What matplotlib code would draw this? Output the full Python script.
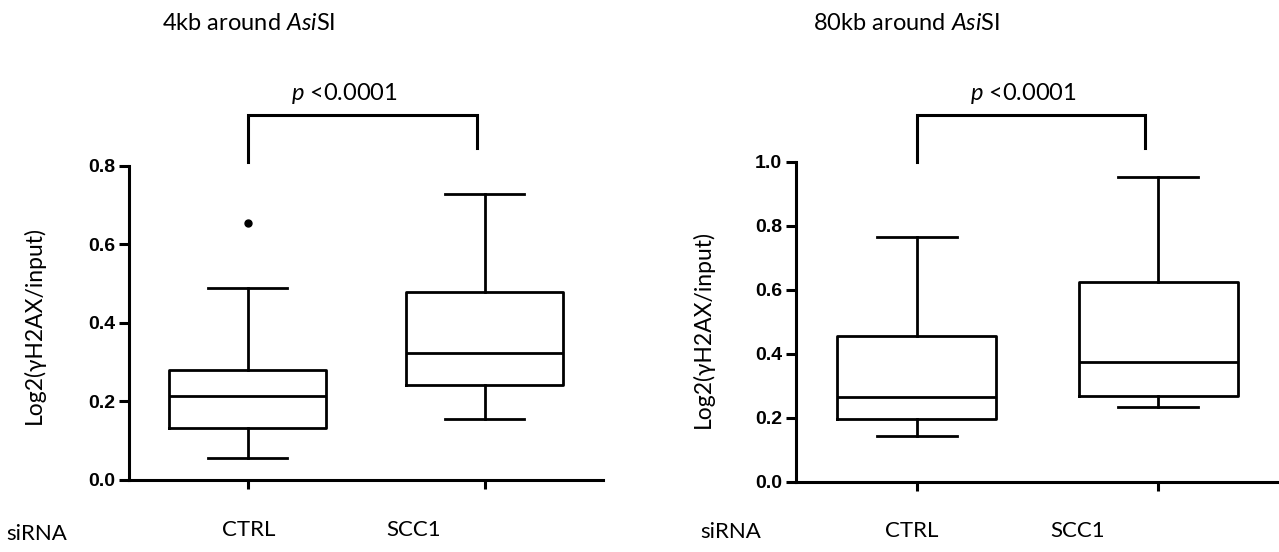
import matplotlib
matplotlib.use('Agg')
from matplotlib import pyplot as plt

plt.rcParams['font.family'] = ['Lato', 'DejaVu Sans']
plt.rcParams['mathtext.fontset'] = 'custom'
plt.rcParams['mathtext.rm'] = 'Lato'
plt.rcParams['mathtext.it'] = 'Lato:italic'

groups = ['CTRL', 'SCC1']

# 4kb around AsiSI: whisker low, Q1, median, Q3, whisker high
kb4_low = [0.055, 0.155]
kb4_q1 = [0.132, 0.243]
kb4_med = [0.215, 0.323]
kb4_q3 = [0.279, 0.479]
kb4_high = [0.488, 0.727]
kb4_fliers = [[0.653], []]

# 80kb around AsiSI
kb80_low = [0.144, 0.234]
kb80_q1 = [0.195, 0.268]
kb80_med = [0.264, 0.375]
kb80_q3 = [0.455, 0.625]
kb80_high = [0.766, 0.951]
kb80_fliers = [[], []]

W, H = 1279, 552
fig = plt.figure(figsize=(W / 100, H / 100), dpi=100)


def stats(low, q1, med, q3, high, fliers):
    out = []
    for i in range(len(low)):
        out.append({'whislo': low[i], 'q1': q1[i], 'med': med[i], 'q3': q3[i],
                    'whishi': high[i], 'fliers': fliers[i]})
    return out


def panel(rect, st, ymax, bracket):
    ax = fig.add_axes(rect)
    lw = 2.0
    ax.bxp(st, positions=[1, 2], widths=0.66, showfliers=True,
           boxprops=dict(color='black', linewidth=lw),
           medianprops=dict(color='black', linewidth=lw),
           whiskerprops=dict(color='black', linewidth=lw),
           capprops=dict(color='black', linewidth=lw),
           flierprops=dict(marker='o', markerfacecolor='black', markeredgecolor='black',
                           markersize=5))
    ax.set_xlim(0.5, 2.5)
    ax.set_ylim(0, ymax)
    ax.set_yticks([round(v * 0.2, 1) for v in range(int(round(ymax / 0.2)) + 1)])
    ax.set_yticklabels(['%.1f' % t for t in ax.get_yticks()],
                       fontfamily='Liberation Sans', fontweight='bold', fontsize=14)
    ax.set_xticks([1, 2])
    ax.set_xticklabels(['', ''])
    for s in ['top', 'right']:
        ax.spines[s].set_visible(False)
    for s in ['left', 'bottom']:
        ax.spines[s].set_linewidth(2.2)
    ax.tick_params(axis='y', length=7, width=2.2, pad=3)
    ax.tick_params(axis='x', length=6.5, width=2.2)
    # significance bracket
    x1, x2, ytop, yl, yr = bracket
    ax.plot([x1, x1, x2, x2], [yl, ytop, ytop, yr], color='black', lw=2.2,
            clip_on=False, solid_joinstyle='miter')
    return ax


panel([129 / W, 1 - 480 / H, 474 / W, 314.3 / H],
      stats(kb4_low, kb4_q1, kb4_med, kb4_q3, kb4_high, kb4_fliers), 0.8,
      (1, 1.97, 0.929, 0.809, 0.845))
panel([796 / W, 1 - 481.7 / H, 483 / W, 320 / H],
      stats(kb80_low, kb80_q1, kb80_med, kb80_q3, kb80_high, kb80_fliers), 1.0,
      (1, 1.944, 1.146, 0.998, 1.042))


def ftext(x, y, s, **kw):
    fig.text(x / W, 1 - y / H, s, **kw)


ftext(162, 24, r'4kb around $\mathit{Asi}$SI', fontsize=17, ha='left', va='center')
ftext(813, 24, r'80kb around $\mathit{Asi}$SI', fontsize=17, ha='left', va='center')
ftext(344, 93, r'$\mathit{p}$ <0.0001', fontsize=17, ha='center', va='center')
ftext(1023, 93, r'$\mathit{p}$ <0.0001', fontsize=17, ha='center', va='center')

ftext(34, 325, 'Log2(γH2AX/input)', fontsize=16.5, rotation=90, ha='center', va='center')
ftext(703, 329, 'Log2(γH2AX/input)', fontsize=16.5, rotation=90, ha='center', va='center')

ftext(6, 534, 'siRNA', fontsize=16, ha='left', va='center')
ftext(700, 532, 'siRNA', fontsize=16, ha='left', va='center')
for cx, name in zip([249, 414], groups):
    ftext(cx, 530, name, fontsize=16, ha='center', va='center')
for cx, name in zip([912, 1078], groups):
    ftext(cx, 531, name, fontsize=16, ha='center', va='center')

fig.savefig('out.png', dpi=100)
